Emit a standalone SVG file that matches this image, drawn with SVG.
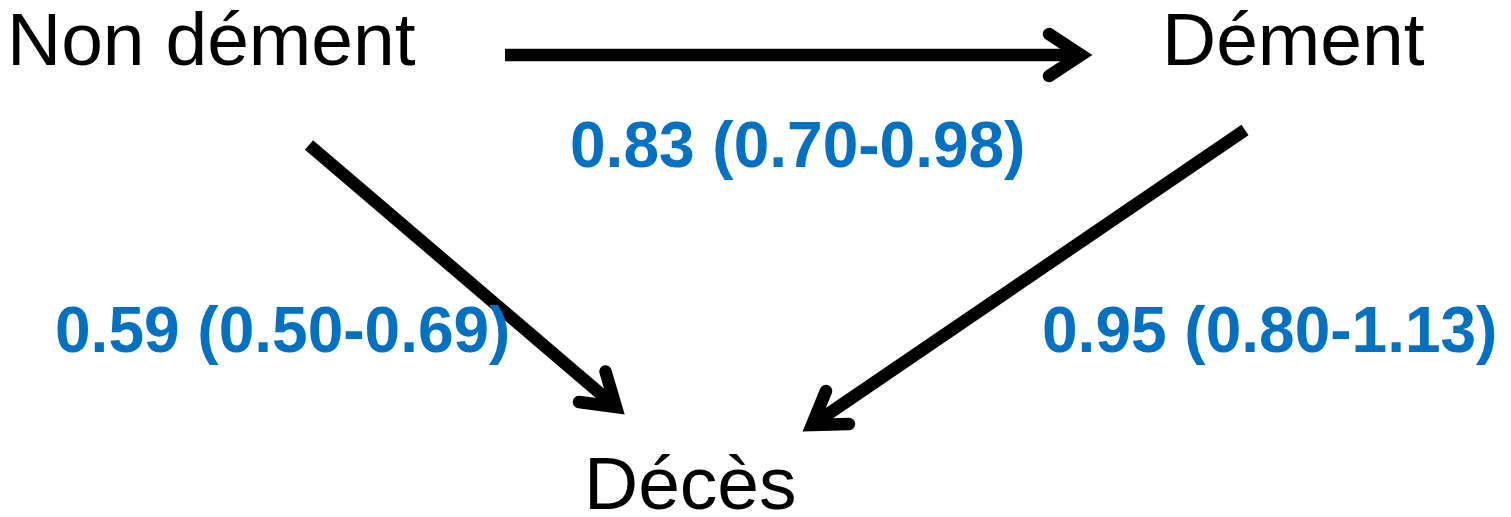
<svg xmlns="http://www.w3.org/2000/svg" width="1511" height="517" viewBox="0 0 1511 517">
  <style>
    .state { font-family: "Liberation Sans", Arial, sans-serif; font-size: 75px; fill: #000000; }
    .rate { font-family: "Liberation Sans", Arial, sans-serif; font-size: 64px; font-weight: bold; fill: #0070C0; }
    .shaft { fill: none; stroke: #000000; stroke-width: 12.5; stroke-linecap: butt; }
    .head { fill: none; stroke: #000000; stroke-width: 12.5; stroke-linecap: round; stroke-linejoin: miter; }
  </style>
  <rect width="1511" height="517" fill="#ffffff"/>

  <!-- states -->
  <g id="non-dement">
    <text class="state" x="7" y="65">Non dément</text>
  </g>
  <g id="dement">
    <text class="state" x="1162" y="65">Dément</text>
  </g>
  <g id="deces">
    <text class="state" x="584" y="509">Décès</text>
  </g>

  <!-- transitions -->
  <g id="connectors">
    <path class="shaft" d="M505,55 L1081,55"/>
    <path class="head" d="M1049,34 L1081,55 L1049,76"/>

    <path class="shaft" d="M309,145 L616,407"/>
    <path class="head" d="M605.5,371.5 L616,407 L579,402"/>

    <path class="shaft" d="M1245,130 L812,425"/>
    <path class="head" d="M826,391 L812,425 L849,424"/>
  </g>

  <!-- transition estimates -->
  <g id="labels">
    <text class="rate" x="570" y="167">0.83 (0.70-0.98)</text>
    <text class="rate" x="55" y="352">0.59 (0.50-0.69)</text>
    <text class="rate" x="1042" y="352">0.95 (0.80-1.13)</text>
  </g>
</svg>
